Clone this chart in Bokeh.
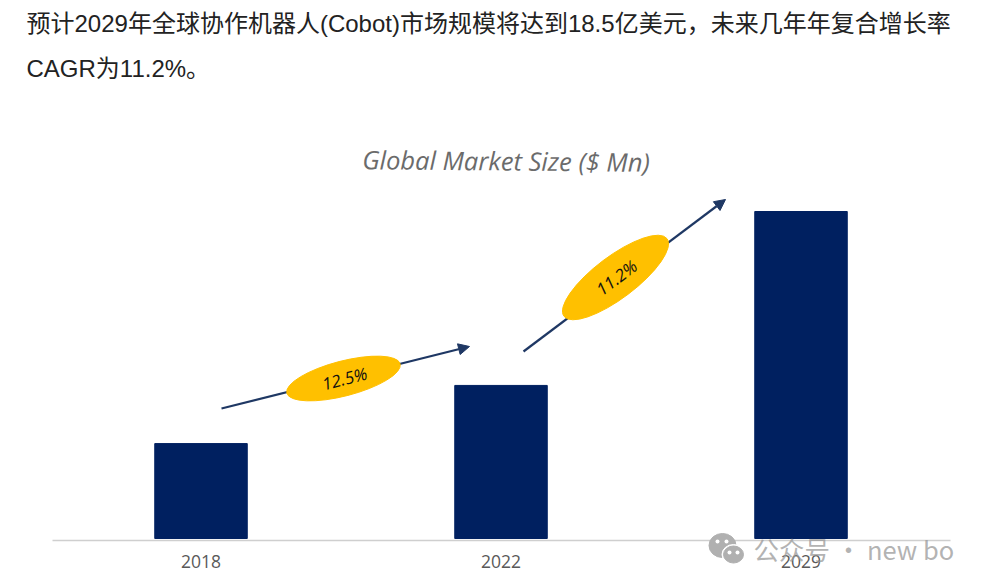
from bokeh.plotting import figure
from bokeh.embed import file_html
from bokeh.resources import INLINE
from bokeh.core.properties import value
from bokeh.models import Arrow, NormalHead
import math

years = ["2018", "2022", "2029"]
market_size = [537, 866, 1850]
cagr_labels = ["12.5%", "11.2%"]
title_text = "Global Market Size ($ Mn)"
para_line1 = "预计2029年全球协作机器人(Cobot)市场规模将达到18.5亿美元，未来几年年复合增长率"
para_line2 = "CAGR为11.2%。"
watermark_text = "公众号 · new bo"

W, H = 965, 579
PX_PER_CAT = 300.0
PER_PX = 1850 / 327.0
x0 = -200.5 / PX_PER_CAT
BASE = 538.0

def px(x):
    return x0 + x / PX_PER_CAT

def py(y):
    return (BASE - y) * PER_PX

p = figure(width=W, height=H, output_backend="svg", toolbar_location=None,
           x_range=(x0, x0 + W / PX_PER_CAT), y_range=(py(H), py(0)),
           min_border_left=0, min_border_right=0, min_border_top=0, min_border_bottom=0)
p.outline_line_color = None
p.background_fill_color = "white"
p.border_fill_color = "white"
p.grid.visible = False
p.yaxis.visible = False

ax = p.xaxis[0]
ax.fixed_location = py(539.5)
ax.ticker = list(range(len(years)))
ax.major_label_overrides = {i: y for i, y in enumerate(years)}
ax.bounds = (px(52), px(950))
ax.axis_line_color = "#cfcfcf"
ax.axis_line_width = 1.5
ax.major_tick_line_color = None
ax.minor_tick_line_color = None
ax.major_label_text_font = "Open Sans"
ax.major_label_text_font_size = "17.5px"
ax.major_label_text_color = "#595959"
ax.major_label_standoff = 9

p.vbar(x=list(range(len(years))), top=market_size, width=92.5 / PX_PER_CAT, color="#002060")

# growth arrows
for (xs, ys, xe, ye) in [(221, 408, 469, 346), (523, 351, 725, 199)]:
    p.add_layout(Arrow(x_start=px(xs), y_start=py(ys), x_end=px(xe), y_end=py(ye),
                       line_color="#1f3864", line_width=2.2, level="underlay",
                       end=NormalHead(size=11, fill_color="#1f3864", line_color="#1f3864")))

# CAGR ellipses and labels
ell = [(343, 378, 117, 35, 14.5), (615, 277, 129, 42, 37)]
for (cx, cy, w, h, a), lab in zip(ell, cagr_labels):
    p.ellipse(x=[px(cx)], y=[py(cy)], width=w, height=h, width_units="screen",
              height_units="screen", angle=math.radians(a), color="#ffc000")
    p.text(x=[px(cx + 1)], y=[py(cy)], text=[lab],
           angle=math.radians(a), text_align="center", text_baseline="middle",
           text_font=value("Open Sans"), text_font_style="italic",
           text_font_size="17px", text_color="#111111")

# chart title
p.text(x=[px(505.5)], y=[py(160)], text=[title_text], angle=math.radians(-0.5),
       text_align="center", text_baseline="middle",
       text_font=value("Open Sans"), text_font_style="italic",
       text_font_size="25.5px", text_color="#6b6b6b")

# paragraph
CSS = "Liberation Sans, Noto Sans CJK SC"
for t, yy in [(para_line1, 23), (para_line2, 68)]:
    p.text(x=[px(26)], y=[py(yy)], text=[t], text_align="left", text_baseline="middle",
           text_font=value(CSS), text_font_size="24px", text_color="#222222")

# watermark
GR = "#b0b0b0"
wm = []
wm.append(p.ellipse(x=[px(722)], y=[py(545)], width=27, height=24, width_units="screen",
          height_units="screen", color=GR))
wm.append(p.ellipse(x=[px(733)], y=[py(554)], width=23, height=20, width_units="screen",
          height_units="screen", color="white"))
wm.append(p.ellipse(x=[px(733)], y=[py(554)], width=20, height=17, width_units="screen",
          height_units="screen", color=GR))
wm.append(p.scatter(x=[px(717), px(726), px(729), px(737)], y=[py(541), py(541), py(552), py(552)],
          size=4, color="white", line_color=None))
wm.append(p.text(x=[px(753)], y=[py(548)], text=[watermark_text], text_align="left", text_baseline="middle",
       text_font=value("Noto Sans CJK SC"), text_font_size="25.5px", text_color="#9a9a9a",
       text_alpha=0.75))
for r in wm:
    r.level = "overlay"

open("out.html", "w").write(file_html(p, INLINE))
